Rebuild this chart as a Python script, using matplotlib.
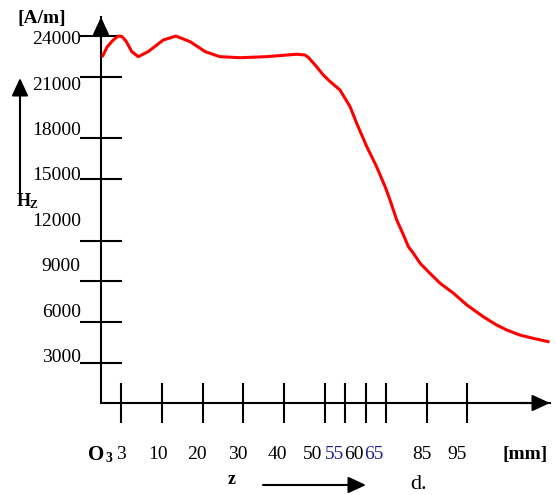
import numpy as np
import matplotlib.pyplot as plt

plt.rcParams['font.family'] = ['Liberation Serif', 'DejaVu Serif']

# Hz along z
z_mm = [0.25, 0.9, 1.8, 2.55, 3.1, 3.8, 4.8, 5.9, 7.6, 10.3, 13.4, 16.9, 20.6,
        24.2, 29.2, 35.7, 43.1, 45.1, 45.9, 47.6, 49.6, 51.3, 53.7, 56.2, 57.8,
        60.3, 62.7, 64.8, 67.0, 70.3, 73.6, 76.0, 78.5, 81.8, 85.8, 88.3, 91.6,
        94.9, 98.9, 102.2, 104.7, 107.9, 111.2, 114.9]
hz = [22920, 23520, 23980, 24240, 24210, 23910, 23210, 22880, 23210, 23980,
      24240, 23870, 23210, 22880, 22810, 22880, 23040, 22990, 22840, 22330,
      21670, 21230, 20680, 19570, 18480, 16930, 15610, 14290, 13410, 12090,
      11100, 10330, 9890, 9230, 8570, 7910, 7250, 6470, 5700, 5150, 4820,
      4490, 4270, 4050]

ytick_labels = [24000, 21000, 18000, 15000, 12000, 9000, 6000, 3000]
ytick_marks = [24240, 21540, 17510, 14800, 10700, 8060, 5350, 2640]  # hand-drawn tick lines
z_ticks = [3, 10, 20, 30, 40, 50, 55, 60, 65, 85, 95]
z_blue = [55, 65]
z_label_shift = [0, -4, -6, -6, -7, -12, -11, -12, -12, -5, -10]  # px

# the z axis is not uniform: piecewise linear
z_anchor = [0, 3, 10, 50, 65, 85, 95, 115.3]
pos_anchor = [0, 0.5, 1.5, 5.5, 7, 8, 9, 11.03]


def fwd(x):
    return np.interp(x, z_anchor, pos_anchor)


def inv(p):
    return np.interp(p, pos_anchor, z_anchor)


W, H = 556, 495
fig = plt.figure(figsize=(W / 100, H / 100), dpi=100)
ax = fig.add_axes([101 / W, 1 - 403 / H, 449 / W, 386 / H])
ax.set_xscale('function', functions=(fwd, inv))
ax.set_xlim(0, 115.3)
ax.set_ylim(0, 25500)

ax.plot(z_mm, hz, color='red', lw=2.2, solid_capstyle='round',
        solid_joinstyle='round', clip_on=False, zorder=3)

for s in ['top', 'right']:
    ax.spines[s].set_visible(False)
for s in ['left', 'bottom']:
    ax.spines[s].set_linewidth(1.5)

ax.set_yticks(ytick_marks, labels=[])
ax.set_xticks(z_ticks, labels=[])
ax.xaxis.set_minor_locator(plt.NullLocator())
ax.yaxis.set_minor_locator(plt.NullLocator())
ax.tick_params(axis='y', direction='inout', length=30, width=1.5)
ax.tick_params(axis='x', direction='inout', length=29.5, width=1.5)

for v in ytick_labels:
    ax.text(-0.045, v, str(v), transform=ax.get_yaxis_transform(),
            ha='right', va='center', fontsize=14)

for z, dx in zip(z_ticks, z_label_shift):
    col = '#1f1f8c' if z in z_blue else 'black'
    ax.annotate(str(z), xy=(z, 0), xycoords=ax.get_xaxis_transform(),
                xytext=(dx / 1.389, -52 / 1.389), textcoords='offset points',
                ha='center', va='center', fontsize=14, color=col)


def fx(x):
    return x / W


def fy(y):
    return 1 - y / H


fig.text(fx(42), fy(19), '[A/m]', ha='center', va='center', fontsize=14, fontweight='bold')
fig.text(fx(17), fy(201), 'H', ha='left', va='center', fontsize=13, fontweight='bold')
fig.text(fx(30), fy(205), 'Z', ha='left', va='center', fontsize=8.5, fontweight='bold')
fig.text(fx(88), fy(455), 'O', ha='left', va='center', fontsize=15, fontweight='bold')
fig.text(fx(105), fy(458), '3', ha='left', va='center', fontsize=10, fontweight='bold')
fig.text(fx(548), fy(455), '[mm]', ha='right', va='center', fontsize=14, fontweight='bold')
fig.text(fx(232), fy(479), 'z', ha='center', va='center', fontsize=13, fontweight='bold')
fig.text(fx(410), fy(494), 'd.', ha='left', va='bottom', fontsize=16)


def arrow(x0, y0, x1, y1):
    ax.annotate('', xy=(x1, H - y1), xycoords='figure pixels',
                xytext=(x0, H - y0), textcoords='figure pixels',
                annotation_clip=False,
                arrowprops=dict(arrowstyle='-|>,head_length=1.08,head_width=0.5',
                                mutation_scale=10, lw=1.5, color='black',
                                shrinkA=0, shrinkB=0))


arrow(101, 45, 101, 17)     # y axis head
arrow(520, 403, 550, 403)   # x axis head
arrow(20, 193, 20, 78)      # Hz arrow
arrow(263, 485, 366, 485)   # z arrow

plt.savefig('out.png', dpi=100)
